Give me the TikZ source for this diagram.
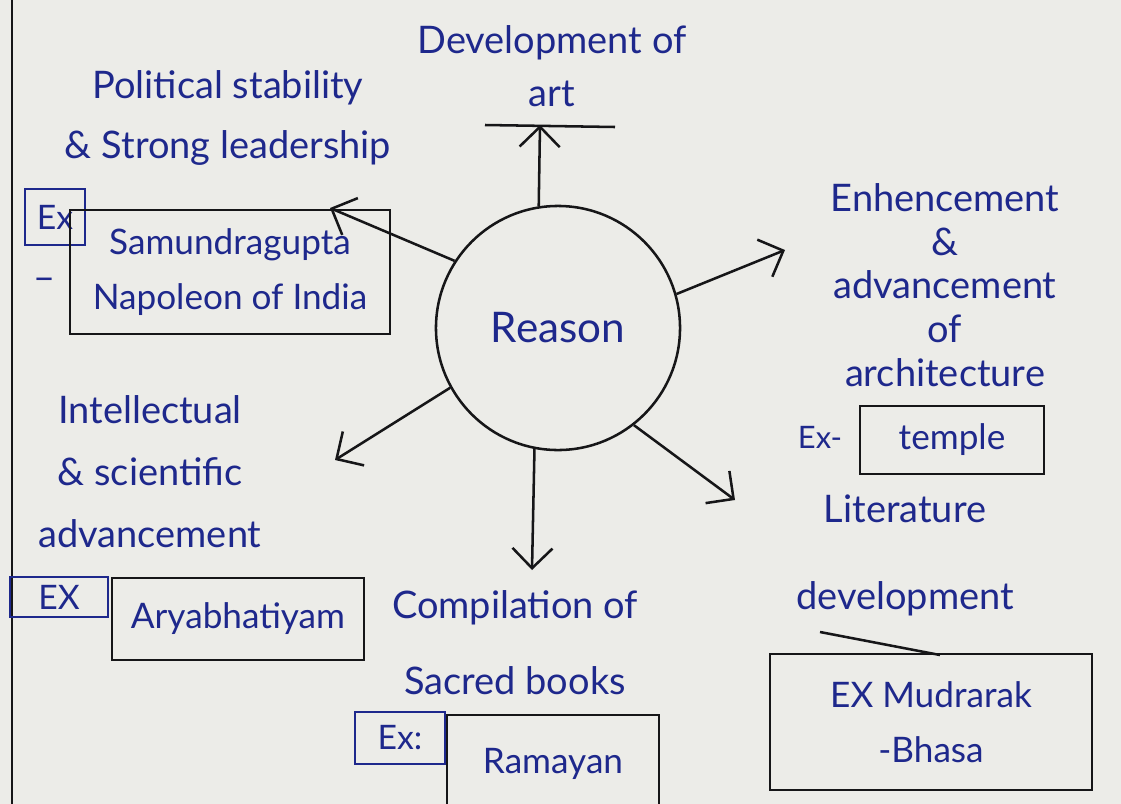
\documentclass[tikz,border=0pt]{standalone}
\usepackage{fontspec}
\setmainfont{Lato}
\usepackage{xcolor}
\usetikzlibrary{arrows.meta, positioning, calc}
\definecolor{penblue}{RGB}{30, 40, 140}
\definecolor{penblack}{RGB}{22, 22, 24}
\definecolor{paper}{RGB}{236, 236, 232}

\begin{document}
\begin{tikzpicture}[x=0.025cm, y=-0.025cm,
  ink/.style={text=penblue, font=\fontsize{27}{42}\selectfont, align=center, inner sep=0pt},
  exbox/.style={draw=penblue, line width=1.3pt, text=penblue, font=\fontsize{24}{26}\selectfont, inner sep=0pt},
  bookbox/.style={draw=penblack, line width=1.8pt, text=penblue, font=\fontsize{25}{39}\selectfont, align=center, inner sep=0pt},
  reach/.style={draw=penblack, line width=1.8pt, -{Straight Barb[length=5mm, width=10mm]}}]
\useasboundingbox (0,0) rectangle (1121,804);
\fill[paper] (0,0) rectangle (1121,804);
% margin rule of the page
\draw[penblack, line width=1.2pt] (12,0) -- (12,804);

% centre
\node[circle, draw=penblack, line width=1.8pt, minimum size=6.1cm, text=penblue, font=\fontsize{30}{32}\selectfont] (reason) at (558,328) {Reason};

% top
\node[ink, font=\fontsize{27}{38}\selectfont] (art) at (552,66) {Development of\\art};
\draw[penblack, line width=1.8pt] (485,125) -- (615,127);
\coordinate (artTip) at (540,125);

% upper left
\node[ink] (politics) at (228,118) {Political stability\\\& Strong leadership};
\node[exbox, minimum width=1.5cm, minimum height=1.4cm] (exA) at (55,217) {Ex};
\node[bookbox, minimum width=8cm, minimum height=3.1cm] (samudra) at (230,272) {Samundragupta\\Napoleon of India};
\node[ink] (dash) at (45,284) {–};
\coordinate (politicsTip) at (330,208);

% right
\node[ink, font=\fontsize{27}{31}\selectfont] (arch) at (945,285) {Enhencement\\\&\\advancement\\of\\architecture};
\node[ink, font=\fontsize{22}{26}\selectfont] (exB) at (820,437) {Ex-};
\node[bookbox, minimum width=4.6cm, minimum height=1.7cm] (temple) at (952,440) {temple};
\coordinate (archTip) at (785,250);

% lower left
\node[ink, font=\fontsize{27}{44}\selectfont] (intel) at (150,472) {Intellectual\\\& scientific\\advancement};
\node[exbox, minimum width=2.45cm, minimum height=1cm] (exC) at (59,597) {EX};
\node[bookbox, minimum width=6.3cm, minimum height=2.05cm] (arya) at (238,619) {Aryabhatiyam};
\coordinate (intelTip) at (335,460);

% bottom
\node[ink, font=\fontsize{27}{54}\selectfont] (books) at (515,643) {Compilation of\\Sacred books};
\node[exbox, minimum width=2.25cm, minimum height=1.3cm] (exD) at (400,738) {Ex:};
\node[bookbox, minimum width=5.3cm, minimum height=2.45cm] (ramayan) at (553,764) {Ramayan};
\coordinate (booksTip) at (532,570);

% lower right
\node[ink, font=\fontsize{27}{62}\selectfont] (lit) at (905,555) {Literature\\development};
\draw[penblack, line width=1.8pt] (820,632) -- (940,655);
\node[bookbox, minimum width=8.05cm, minimum height=3.4cm] (mudra) at (931,722) {EX Mudrarak\\-Bhasa};
\coordinate (litTip) at (735,500);

% reasons branching out
\draw[reach] (reason.99) -- (artTip);
\draw[reach] (reason.147) -- (politicsTip);
\draw[reach] (reason.16) -- (archTip);
\draw[reach] (reason.209) -- (intelTip);
\draw[reach] (reason.259) -- (booksTip);
\draw[reach] (reason.308) -- (litTip);
\end{tikzpicture}
\end{document}
